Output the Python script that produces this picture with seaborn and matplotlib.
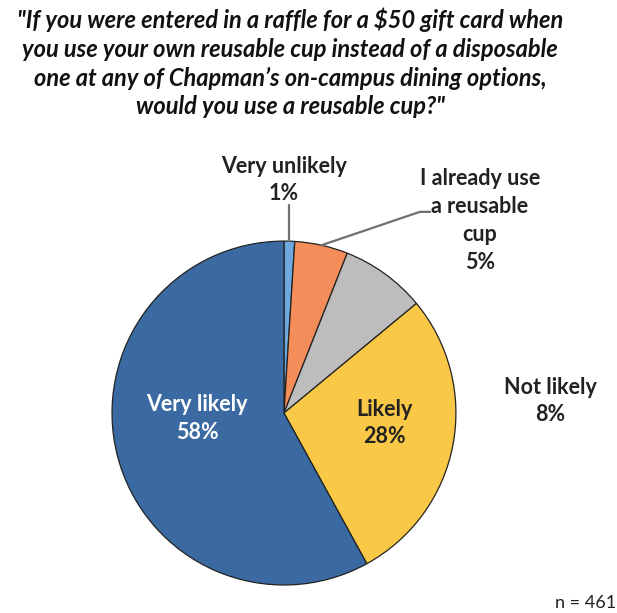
import numpy as np
import matplotlib.pyplot as plt
import seaborn as sns

sns.set_theme(style="white")
plt.rcParams['font.family'] = ['Lato', 'DejaVu Sans']

labels = ['Very unlikely', 'I already use\na reusable\ncup', 'Not likely', 'Likely', 'Very likely']
values = [1, 5, 8, 28, 58]
colors = ['#6FA8DC', '#F58D5B', '#BDBDBD', '#F9C846', '#3A6AA1']

title = ('"If you were entered in a raffle for a $50 gift card when\n'
         'you use your own reusable cup instead of a disposable\n'
         'one at any of Chapman\u2019s on-campus dining options,\n'
         'would you use a reusable cup?"')

fig = plt.figure(figsize=(6.17, 6.13), dpi=100)
ax = fig.add_axes([0.1815, 0.0457, 0.5575, 0.561])

wedges, _ = ax.pie(values, colors=colors, startangle=90, counterclock=False,
                   radius=1, wedgeprops=dict(edgecolor='#222222', linewidth=0.9))
ax.set_xlim(-1, 1)
ax.set_ylim(-1, 1)
ax.set_aspect('equal')
ax.axis('off')

def mid(w, r=1.0):
    a = np.deg2rad((w.theta1 + w.theta2) / 2)
    return r * np.cos(a), r * np.sin(a)

txt = dict(fontsize=15.5, fontweight='bold', ha='center', va='center', linespacing=1.4)

# Very unlikely (leader line up)
x0, y0 = mid(wedges[0])
ax.plot([x0, x0], [y0, 1.21], color='#6f6f6f', lw=1.6, clip_on=False)
ax.text(0.0, 1.355, f'{labels[0]}\n{values[0]}%', color='#222222', **txt)

# I already use a reusable cup
x1, y1 = mid(wedges[1])
ax.plot([x1, 0.79, 0.85], [y1, 1.17, 1.17], color='#6f6f6f', lw=1.6, clip_on=False)
ax.text(1.14, 1.12, f'{labels[1]}\n{values[1]}%', color='#222222', **txt)

# Not likely
ax.text(1.547, 0.07, f'{labels[2]}\n{values[2]}%', color='#222222', **txt)

# Likely
ax.text(0.587, -0.058, f'{labels[3]}\n{values[3]}%', color='#222222', **txt)

# Very likely
ax.text(-0.506, -0.03, f'{labels[4]}\n{values[4]}%', color='white', **txt)

fig.text(0.47, 0.897, title, fontsize=17, fontweight='bold', fontstyle='italic',
         ha='center', va='center', linespacing=1.3, color='#111111')
fig.text(0.9, 0.016, 'n = 461', fontsize=13, ha='left', va='center', color='#222222')

plt.savefig('out.png', dpi=100)
